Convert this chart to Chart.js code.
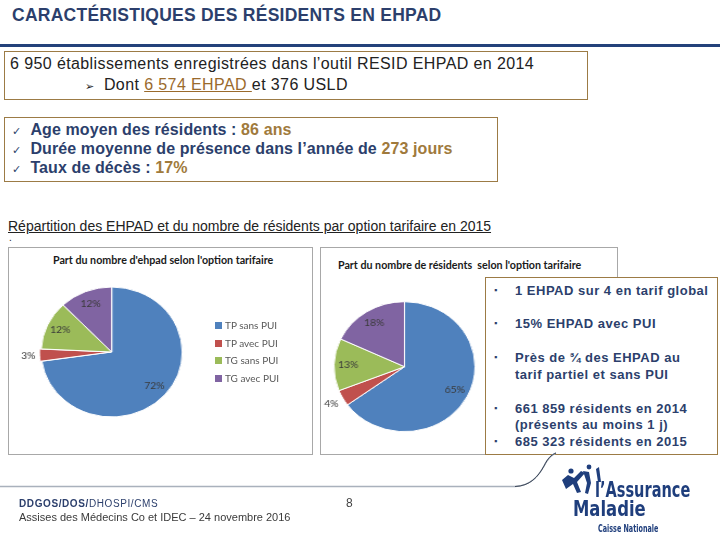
<!DOCTYPE html>
<html lang="fr">
<head>
<meta charset="utf-8">
<title>Caractéristiques des résidents en EHPAD</title>
<script src="https://cdn.jsdelivr.net/npm/chart.js@4.4.1/dist/chart.umd.min.js"></script>
<style>
  html, body { margin: 0; padding: 0; background: #fff; }
  #slide { position: relative; width: 720px; height: 540px; overflow: hidden;
           font-family: 'Liberation Sans', Arial, sans-serif; }
  .abs { position: absolute; white-space: nowrap; }
  .navy { color: #2c3f6c; }
  .gold { color: #a07a3c; }
  .frame { position: absolute; box-sizing: border-box; border: 1px solid #9c7b45; background: #fff; }
  .chartbox { position: absolute; box-sizing: border-box; border: 1px solid #a8a8a8; background: #fff; }
  .ctitle { position: absolute; white-space: nowrap; font-family: Lato, sans-serif; font-weight: bold;
            font-size: 10.7px; line-height: 11px; color: #1a1a1a; }
  .big { font-size: 16px; line-height: 16px; color: #222; letter-spacing: 0.4px; }
  .chk { font-size: 16px; line-height: 16px; font-weight: bold; letter-spacing: 0.1px; }
  .tick { font-family: 'DejaVu Sans', sans-serif; font-weight: normal; font-size: 11px; }
  .side { font-size: 13px; line-height: 13px; font-weight: bold; color: #2c3f6c; letter-spacing: 0.5px; }
  .bul { font-size: 9px; line-height: 13px; color: #2c3f6c; }
  .pie { transform: scaleX(1.085); }
  .lg { position: absolute; white-space: nowrap; font-family: Lato, sans-serif; font-size: 10px; line-height: 10px; color: #595959; }
  .lg i { display: inline-block; width: 7px; height: 7px; margin-right: 3px; vertical-align: 0px; }
  .logo { position: absolute; white-space: nowrap; transform-origin: 0 0;
          font-family: 'DejaVu Sans Condensed', sans-serif; font-weight: bold; color: #1f3e7c; }
</style>
</head>
<body>
<div id="slide">
  <!-- header -->
  <div class="abs navy" style="left:12px; top:7px; font-size:17.5px; line-height:17.5px; font-weight:bold; letter-spacing:0.25px;">CARACTÉRISTIQUES DES RÉSIDENTS EN EHPAD</div>
  <div class="abs" style="left:0; top:44px; width:720px; height:3px; background:#23417a;"></div>

  <!-- box 1 -->
  <div class="frame" style="left:4px; top:51px; width:584px; height:49px;"></div>
  <div class="abs big" style="left:10px; top:56px;">6 950 établissements enregistrées dans l’outil RESID EHPAD en 2014</div>
  <div class="abs big" style="left:85px; top:77px;"><span style="font-family:'DejaVu Sans'; font-size:11px; letter-spacing:0;">➢</span>&nbsp;&nbsp;Dont <span style="color:#9a6a2c; text-decoration:underline;">6 574 EHPAD </span>et 376 USLD</div>

  <!-- box 2 -->
  <div class="frame" style="left:4px; top:117px; width:494px; height:65px;"></div>
  <div class="abs chk navy" style="left:12px; top:122px;"><span class="tick">✓</span>&nbsp;&nbsp;Age moyen des résidents : <span class="gold">86 ans</span></div>
  <div class="abs chk navy" style="left:12px; top:141px;"><span class="tick">✓</span>&nbsp;&nbsp;Durée moyenne de présence dans l’année de <span class="gold">273 jours</span></div>
  <div class="abs chk navy" style="left:12px; top:160px;"><span class="tick">✓</span>&nbsp;&nbsp;Taux de décès : <span class="gold">17%</span></div>

  <!-- section heading -->
  <div class="abs" style="left:8px; top:219px; font-size:14px; line-height:14px; color:#222; text-decoration:underline;">Répartition des EHPAD et du nombre de résidents par option tarifaire en 2015</div>
  <div class="abs" style="left:9px; top:233px; font-size:10px; line-height:10px; color:#222;">.</div>

  <!-- chart 1 -->
  <div class="chartbox" style="left:8px; top:247px; width:305px; height:208px;"></div>
  <div class="ctitle" style="left:53px; top:254px;">Part du nombre d'ehpad selon l'option tarifaire</div>
  <canvas id="chartEhpad" class="abs pie" width="302" height="205" style="left:9px; top:248px; transform-origin:102.7px 104px;"></canvas>
  <div id="legendEhpad"></div>

  <!-- chart 2 -->
  <div class="chartbox" style="left:320px; top:247px; width:298px; height:208px;"></div>
  <div class="ctitle" style="left:338px; top:259px;">Part du nombre de résidents&nbsp; selon l'option tarifaire</div>
  <canvas id="chartResidents" class="abs pie" width="295" height="205" style="left:321px; top:248px; transform-origin:83.5px 119px;"></canvas>

  <!-- key figures -->
  <div class="frame" style="left:485px; top:277px; width:233px; height:178px; border-width:1.5px;"></div>
  <div class="abs bul" style="left:494px; top:284px;">▪</div>
  <div class="abs side" style="left:515px; top:284px;">1 EHPAD sur 4 en tarif global</div>
  <div class="abs bul" style="left:494px; top:317px;">▪</div>
  <div class="abs side" style="left:515px; top:317px;">15% EHPAD avec PUI</div>
  <div class="abs bul" style="left:494px; top:351px;">▪</div>
  <div class="abs side" style="left:515px; top:351px;">Près de ¾ des EHPAD au</div>
  <div class="abs side" style="left:515px; top:368px;">tarif partiel et sans PUI</div>
  <div class="abs bul" style="left:494px; top:402px;">▪</div>
  <div class="abs side" style="left:515px; top:402px;">661 859 résidents en 2014</div>
  <div class="abs side" style="left:515px; top:418px;">(présents au moins 1 j)</div>
  <div class="abs bul" style="left:494px; top:435px;">▪</div>
  <div class="abs side" style="left:515px; top:435px;">685 323 résidents en 2015</div>

  <!-- footer -->
  <svg class="abs" style="left:0; top:440px;" width="720" height="100">
    <path d="M0 46.5 L515 46.5 C530 46 538 37 544 26 C548 18 551 15 556 13" fill="none" stroke="#a9b1bc" stroke-width="1.5"/>
    <path d="M515 46.5 C530 46 538 37 544 26 C548 18 551 15 556 13" fill="none" stroke="#3b4658" stroke-width="1"/>
    <g fill="#1f3e7c">
      <circle cx="571" cy="31" r="2.6"/>
      <circle cx="589" cy="27" r="2.4"/>
      <path d="M562 40 l6 -5 l6 3 l7 -7 l4 2 l-8 9 l4 10 l-4 1 l-4 -9 l-7 5 z"/>
      <path d="M583 31 l6 1 l2 11 l-3 11 l-3 -1 l2 -10 z"/>
      <path d="M596 29 l3 -2 l2 15 l-3 0 z"/>
    </g>
  </svg>
  <div class="logo" style="left:595px; top:480px; font-size:21px; line-height:21px; transform:scaleX(0.77);">l’Assurance</div>
  <div class="logo" style="left:573px; top:499px; font-size:21px; line-height:21px; transform:scaleX(0.87);">Maladie</div>
  <div class="logo" style="left:598px; top:523px; font-size:10.5px; line-height:11px; transform:scaleX(0.68);">Caisse Nationale</div>

  <div class="abs" style="left:19px; top:499px; font-size:10px; line-height:10px; color:#2c3f6c; letter-spacing:0.6px;"><b>DDGOS/DOS/</b>DHOSPI/CMS</div>
  <div class="abs" style="left:19px; top:512px; font-size:11px; line-height:11px; color:#3a3a3a;">Assises des Médecins Co et IDEC – 24 novembre 2016</div>
  <div class="abs" style="left:346px; top:497px; font-size:12px; line-height:12px; color:#444;">8</div>
</div>

<script>
// ── chart values ──
const TARIF_LABELS = ['TP sans PUI', 'TP avec PUI', 'TG sans PUI', 'TG avec PUI'];
const EHPAD_SHARE = [72, 3, 12, 12];        // % des EHPAD
const RESIDENT_SHARE = [65, 4, 13, 18];     // % des résidents
const SLICE_COLORS = ['#4f81bd', '#c0504d', '#9bbb59', '#8064a2'];

// percentage labels, inside big slices and outside the small ones
const sliceLabels = {
  id: 'sliceLabels',
  afterDatasetsDraw(chart) {
    const ctx = chart.ctx;
    const values = chart.data.datasets[0].data;
    ctx.save();
    ctx.font = '9.5px Lato, sans-serif';
    ctx.fillStyle = '#3a3a3a';
    ctx.textAlign = 'center';
    ctx.textBaseline = 'middle';
    chart.getDatasetMeta(0).data.forEach((arc, i) => {
      const p = arc.getProps(['x', 'y', 'startAngle', 'endAngle', 'outerRadius'], true);
      const mid = (p.startAngle + p.endAngle) / 2;
      const r = values[i] < 5 ? p.outerRadius + 12 : p.outerRadius * 0.8;
      ctx.fillText(values[i] + '%', p.x + Math.cos(mid) * r, p.y + Math.sin(mid) * r);
    });
    ctx.restore();
  }
};

function pieConfig(values, padding, radius, offsets) {
  return {
    type: 'pie',
    data: {
      labels: TARIF_LABELS,
      datasets: [{
        data: values,
        backgroundColor: SLICE_COLORS,
        borderColor: '#ffffff',
        borderWidth: 1,
        offset: offsets,
        radius: radius,
      }],
    },
    options: {
      responsive: false,
      animation: false,
      layout: { padding: padding },
      plugins: {
        legend: { display: false },
        tooltip: { enabled: false },
      },
    },
    plugins: [sliceLabels],
  };
}

new Chart(document.getElementById('chartEhpad'),
  pieConfig(EHPAD_SHARE, { left: 10, right: 106.6, top: 10, bottom: 7 }, 65, [0, 3.5, 0, 0]));

new Chart(document.getElementById('chartResidents'),
  pieConfig(RESIDENT_SHARE, { left: 10, right: 138, top: 39, bottom: 6.6 }, 65, [0, 0, 0, 0]));

// legend of the first pie, right of the chart
const legendBox = document.getElementById('legendEhpad');
TARIF_LABELS.forEach((label, i) => {
  const item = document.createElement('div');
  item.className = 'lg';
  item.style.left = '215px';
  item.style.top = (320 + i * 17.5) + 'px';
  item.innerHTML = '<i style="background:' + SLICE_COLORS[i] + '"></i>' + label;
  legendBox.appendChild(item);
});
</script>
</body>
</html>
